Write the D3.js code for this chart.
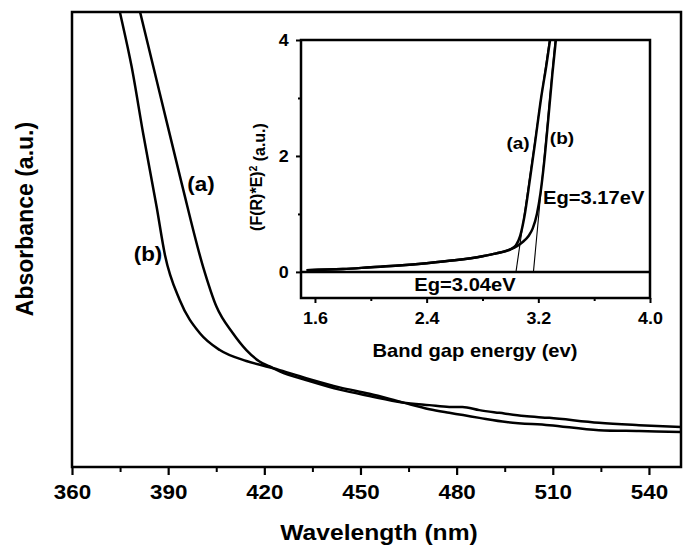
<!DOCTYPE html>
<html><head><meta charset="utf-8">
<script src="https://cdn.jsdelivr.net/npm/d3@7/dist/d3.min.js"></script>
<style>
body{margin:0;background:#fff}
text{font-family:Arial,"Liberation Sans",sans-serif;font-weight:bold;fill:#000}
</style>
</head><body>
<svg id="c" width="683" height="549"></svg>
<script>
// ---- Main plot data (arbitrary absorbance units) ----
const wavelengthA = [379.6,381.2,387.4,394.2,400.9,405.1,410.2,414.4,418.5,421.7,424.8,434.1,443.5,452.8,463.1,471.5,477.7,481.8,487.1,493.3,501.1,508.9,524.4,536.9,550];
const absorbanceA = [1.048,1.001,0.821,0.624,0.440,0.352,0.294,0.257,0.232,0.221,0.210,0.189,0.170,0.156,0.142,0.136,0.132,0.132,0.125,0.119,0.112,0.108,0.097,0.092,0.088];
const wavelengthB = [373.4,374.9,378.6,382.2,386.4,389.0,393.6,399.9,406.1,414.4,420.6,424.8,434.1,443.5,452.8,463.1,471.5,477.7,487.1,495.5,508.9,524.4,536.9,550];
const absorbanceB = [1.048,1.001,0.880,0.733,0.572,0.466,0.367,0.294,0.257,0.233,0.221,0.213,0.193,0.175,0.161,0.142,0.127,0.119,0.108,0.099,0.092,0.081,0.079,0.077];
const mainTicks = [360,390,420,450,480,510,540];
const mainMinorTicks = [375,405,435,465,495,525];

// ---- Inset data: (F(R)*E)^2 vs band gap energy ----
const energyA = [1.54,1.8,2.0,2.2,2.4,2.6,2.8,2.9,3.0,3.04,3.07,3.1,3.14,3.175,3.22,3.26,3.29];
const taucA   = [0.03,0.05,0.08,0.11,0.15,0.20,0.27,0.32,0.39,0.46,0.62,0.95,1.6,2.2,3.0,3.6,4.1];
const energyB = [1.54,1.8,2.0,2.2,2.4,2.6,2.8,2.9,3.0,3.05,3.09,3.13,3.16,3.19,3.215,3.24,3.27,3.3,3.33];
const taucB   = [0.03,0.05,0.08,0.11,0.15,0.20,0.27,0.32,0.39,0.45,0.52,0.62,0.75,1.0,1.35,1.85,2.6,3.4,4.1];
const tangentA = {e:[3.04,3.285], y:[0,4.1]};
const tangentB = {e:[3.165,3.324], y:[0,4.1]};
const insetXTicks = [1.6,2.4,3.2,4.0];
const insetXMinor = [2.0,2.8,3.6];
const insetYTicks = [0,2,4];
const insetYMinor = [1,3];

const svg = d3.select("#c");
const SX = 1.12; // horizontal stretch of lettering in the reference

// ---- main scales ----
const x = d3.scaleLinear().domain([360,550]).range([72,681]);
const y = d3.scaleLinear().domain([0,1]).range([467,12]);

svg.append("defs").append("clipPath").attr("id","mclip")
  .append("rect").attr("x",72).attr("y",12).attr("width",609).attr("height",455);

const line = d3.line().x(d=>x(d[0])).y(d=>y(d[1])).curve(d3.curveMonotoneX);
const gCurves = svg.append("g").attr("clip-path","url(#mclip)");
gCurves.append("path").datum(d3.zip(wavelengthA,absorbanceA)).attr("d",line)
  .attr("fill","none").attr("stroke","#000").attr("stroke-width",2.5);
gCurves.append("path").datum(d3.zip(wavelengthB,absorbanceB)).attr("d",line)
  .attr("fill","none").attr("stroke","#000").attr("stroke-width",2.5);

// main axis
const gx = svg.append("g").attr("transform","translate(0,467)")
  .call(d3.axisBottom(x).tickValues(mainTicks).tickSize(8).tickSizeOuter(0).tickPadding(10).tickFormat(d3.format("d")));
gx.select(".domain").remove();
gx.selectAll("line").attr("stroke-width",2.2);
gx.selectAll("text").style("font-size","20px").attr("transform",`scale(${SX},1)`);
const gxm = svg.append("g").attr("transform","translate(0,467)")
  .call(d3.axisBottom(x).tickValues(mainMinorTicks).tickSize(5).tickSizeOuter(0).tickFormat(""));
gxm.select(".domain").remove();
gxm.selectAll("line").attr("stroke-width",2);

svg.append("rect").attr("x",72).attr("y",12).attr("width",609).attr("height",455)
  .attr("fill","none").attr("stroke","#000").attr("stroke-width",2.5);

function label(txt,cx,cy,size,anchor){
  return svg.append("text").attr("transform",`translate(${cx},${cy}) scale(${SX},1)`)
    .attr("text-anchor",anchor||"middle").style("font-size",size+"px").text(txt);
}
label("Wavelength (nm)",379,540,22);
svg.append("text").attr("transform","translate(33,219) rotate(-90)")
  .attr("text-anchor","middle").style("font-size","23px").text("Absorbance (a.u.)");
label("(a)",201,191,20);
label("(b)",148,261,20);

// ---- inset ----
const ix = d3.scaleLinear().domain([1.5,4.0]).range([301,650]);
const iy = d3.scaleLinear().domain([-0.45,4]).range([298,40]);
svg.append("rect").attr("x",301).attr("y",40).attr("width",349).attr("height",258).attr("fill","#fff");
svg.select("defs").append("clipPath").attr("id","iclip")
  .append("rect").attr("x",301).attr("y",40).attr("width",349).attr("height",258);

const iline = d3.line().x(d=>ix(d[0])).y(d=>iy(d[1])).curve(d3.curveMonotoneX);
const gi = svg.append("g").attr("clip-path","url(#iclip)");
gi.append("line").attr("x1",ix(1.5)).attr("x2",ix(4.0)).attr("y1",iy(0)).attr("y2",iy(0))
  .attr("stroke","#000").attr("stroke-width",2.5);
gi.append("path").datum(d3.zip(tangentA.e,tangentA.y)).attr("d",d3.line().x(d=>ix(d[0])).y(d=>iy(d[1])))
  .attr("fill","none").attr("stroke","#000").attr("stroke-width",1.1);
gi.append("path").datum(d3.zip(tangentB.e,tangentB.y)).attr("d",d3.line().x(d=>ix(d[0])).y(d=>iy(d[1])))
  .attr("fill","none").attr("stroke","#000").attr("stroke-width",1.1);
gi.append("path").datum(d3.zip(energyA,taucA)).attr("d",iline)
  .attr("fill","none").attr("stroke","#000").attr("stroke-width",2.5);
gi.append("path").datum(d3.zip(energyB,taucB)).attr("d",iline)
  .attr("fill","none").attr("stroke","#000").attr("stroke-width",2.5);

const gix = svg.append("g").attr("transform","translate(0,298)")
  .call(d3.axisBottom(ix).tickValues(insetXTicks).tickSize(5).tickSizeOuter(0).tickPadding(10).tickFormat(d3.format(".1f")));
gix.select(".domain").remove();
gix.selectAll("line").attr("stroke-width",2);
gix.selectAll("text").style("font-size","16px").attr("transform",`scale(${SX},1)`);
const gixm = svg.append("g").attr("transform","translate(0,298)")
  .call(d3.axisBottom(ix).tickValues(insetXMinor).tickSize(3).tickSizeOuter(0).tickFormat(""));
gixm.select(".domain").remove();
gixm.selectAll("line").attr("stroke-width",2);

const giy = svg.append("g").attr("transform","translate(301,0)")
  .call(d3.axisLeft(iy).tickValues(insetYTicks).tickSize(5).tickSizeOuter(0).tickPadding(6).tickFormat(d3.format("d")));
giy.select(".domain").remove();
giy.selectAll("line").attr("stroke-width",2);
giy.selectAll("text").style("font-size","16px").attr("transform",`scale(${SX},1)`);
const giym = svg.append("g").attr("transform","translate(301,0)")
  .call(d3.axisLeft(iy).tickValues(insetYMinor).tickSize(3).tickSizeOuter(0).tickFormat(""));
giym.select(".domain").remove();
giym.selectAll("line").attr("stroke-width",2);

svg.append("rect").attr("x",301).attr("y",40).attr("width",349).attr("height",258)
  .attr("fill","none").attr("stroke","#000").attr("stroke-width",2.5);

label("Band gap energy (ev)",475,357,18);
const yl = svg.append("text").attr("transform","translate(262,177) rotate(-90)")
  .attr("text-anchor","middle").style("font-size","16px");
yl.append("tspan").text("(F(R)*E)");
yl.append("tspan").attr("dy","-0.55em").style("font-size","10px").text("2");
yl.append("tspan").attr("dy","0.55em").text(" (a.u.)");

label("(a)",518,149,17);
label("(b)",562,144,17);
label("Eg=3.17eV",543,204,18,"start");
label("Eg=3.04eV",465,291,18);
</script>
</body></html>
